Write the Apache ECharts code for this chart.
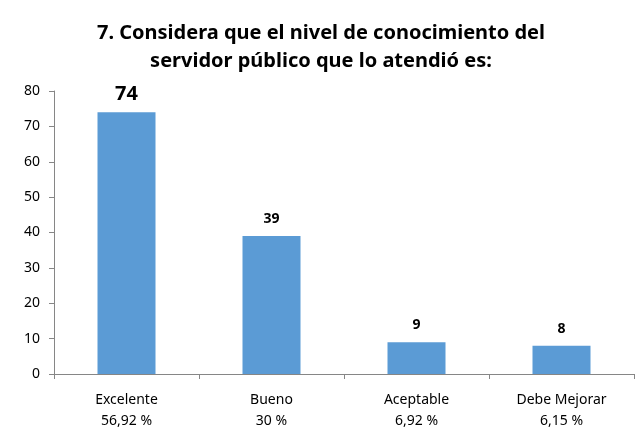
<!DOCTYPE html>
<html><head><meta charset="utf-8">
<script src="https://cdn.jsdelivr.net/npm/echarts@6/dist/echarts.min.js"></script>
<style>html,body{margin:0;padding:0;background:#fff}#c{width:635px;height:432px}</style>
</head><body><div id="c"></div>
<script>
var titleLines = ["7. Considera que el nivel de conocimiento del", "servidor público que lo atendió es:"];
var categories = ["Excelente", "Bueno", "Aceptable", "Debe Mejorar"];
var percents = ["56,92 %", "30 %", "6,92 %", "6,15 %"];
var values = [74, 39, 9, 8];
var yTicks = {min: 0, max: 80, interval: 10};

var font = "'Noto Sans', sans-serif";
var chart = echarts.init(document.getElementById('c'));
chart.setOption({
  animation: false,
  title: {
    text: titleLines.join("\n"),
    left: 316, top: 14, textAlign: 'center',
    textStyle: {fontFamily: font, fontSize: 20, fontWeight: 'bold', color: '#000', lineHeight: 28}
  },
  grid: {left: 54, right: 1, top: 91, bottom: 55, containLabel: false},
  xAxis: {
    type: 'category',
    data: categories.map(function(c, i){ return c + "\n" + percents[i]; }),
    axisLine: {lineStyle: {color: '#868686'}},
    axisTick: {show: true, length: 5, lineStyle: {color: '#868686'}},
    axisLabel: {fontFamily: font, fontSize: 14, color: '#000', lineHeight: 21, margin: 16}
  },
  yAxis: {
    type: 'value', min: yTicks.min, max: yTicks.max, interval: yTicks.interval,
    axisLine: {show: true, lineStyle: {color: '#868686'}},
    axisTick: {show: true, length: 5, lineStyle: {color: '#868686'}},
    splitLine: {show: false},
    axisLabel: {fontFamily: font, fontSize: 14, color: '#000', margin: 14}
  },
  series: [{
    type: 'bar',
    data: values.map(function(v, i){
      return {value: v, label: i === 0 ? {fontSize: 20, distance: 8} : {}};
    }),
    barWidth: '40%',
    itemStyle: {color: '#5B9BD5'},
    label: {show: true, position: 'top', fontFamily: font, fontWeight: 'bold', fontSize: 14, color: '#000', distance: 10}
  }]
});
</script></body></html>
